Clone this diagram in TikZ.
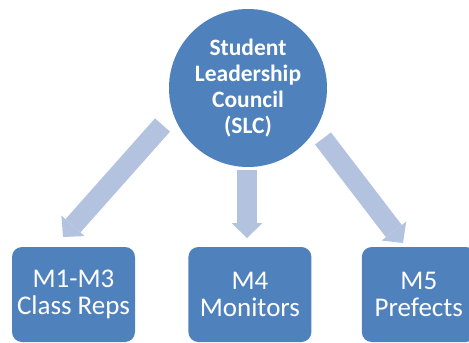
\documentclass[tikz,border=0pt]{standalone}
\usepackage{fontspec}
\setmainfont{Carlito}
\usepackage{tikz}
\usetikzlibrary{positioning, arrows.meta}

\definecolor{slcblue}{HTML}{4F81BD}
\definecolor{arrowblue}{HTML}{B3C3DF}

\begin{document}
\begin{tikzpicture}[x=1pt, y=-1pt,
        council/.style={circle, fill=slcblue, text=white, minimum size=158pt, inner sep=0pt, align=center, font=\fontsize{23.5}{25.7}\selectfont\bfseries},
        group/.style={rectangle, rounded corners=10pt, fill=slcblue, text=white, minimum width=123pt, minimum height=95pt, inner sep=0pt, align=center, font=\fontsize{27}{27}\selectfont},
        bigarrow/.style={draw=arrowblue, line width=20pt, -{Triangle[width=31pt, length=15pt, line width=0pt]}}]
            \useasboundingbox (0,0) rectangle (469,343);

            \node[council] (SLC) at (248,88) {Student\\Leadership\\Council\\(SLC)};

            \node[group] (m1) at (73.5,294.5) {M1-M3\\Class Reps};
            \node[group, right=53pt of m1] (m4) {M4\\Monitors};
            \node[group, minimum width=114pt, right=50pt of m4] (m5) {M5\\Prefects};

            % arrow ends, they stop short of the nodes
            \coordinate (a1) at (162.5,125);
            \coordinate (b1) at (63,237);
            \coordinate (a4) at (247,170);
            \coordinate (b4) at (247,238);
            \coordinate (a5) at (323,138.5);
            \coordinate (b5) at (403,243);

            \draw[bigarrow] (a1) -- (b1);
            \draw[bigarrow] (a4) -- (b4);
            \draw[bigarrow] (a5) -- (b5);
        \end{tikzpicture}
\end{document}
